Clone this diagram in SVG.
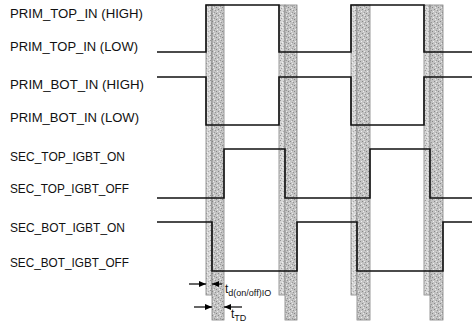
<svg xmlns="http://www.w3.org/2000/svg" width="472" height="326" viewBox="0 0 472 326">
<defs>
<pattern id="stipA" width="5" height="5" patternUnits="userSpaceOnUse">
<rect width="5" height="5" fill="#d6d6d6"/>
<rect x="0" y="0" width="1" height="1" fill="#969696"/>
<rect x="3" y="1" width="1" height="1" fill="#acacac"/>
<rect x="1" y="3" width="1" height="1" fill="#a0a0a0"/>
<rect x="4" y="4" width="1" height="1" fill="#f2f2f2"/>
<rect x="2" y="2" width="1" height="1" fill="#f0f0f0"/>
</pattern>
<pattern id="stipB" width="6" height="6" patternUnits="userSpaceOnUse">
<rect width="6" height="6" fill="#c4c4c4"/>
<rect x="0" y="1" width="1" height="1" fill="#868686"/>
<rect x="4" y="0" width="1" height="1" fill="#999999"/>
<rect x="2" y="3" width="1" height="1" fill="#888888"/>
<rect x="5" y="4" width="1" height="1" fill="#949494"/>
<rect x="1" y="5" width="1" height="1" fill="#eeeeee"/>
<rect x="3" y="1" width="1" height="1" fill="#ececec"/>
<rect x="4" y="3" width="1" height="1" fill="#e8e8e8"/>
</pattern>
<marker id="ah" viewBox="0 0 10 10" refX="10" refY="5" markerWidth="7" markerHeight="6" markerUnits="userSpaceOnUse" orient="auto" preserveAspectRatio="none">
<path d="M0,0 L10,5 L0,10 Z" fill="#000"/>
</marker>
</defs>
<style>
.lbl{font-family:"Liberation Sans",Arial,sans-serif;font-size:12px;fill:#111}
.bA{fill:url(#stipA);stroke:#808080;stroke-width:0.8}
.bB{fill:url(#stipB);stroke:#808080;stroke-width:0.8}
.wave{fill:none;stroke:#111;stroke-width:1.6}
.arr{fill:none;stroke:#000;stroke-width:1.2;marker-end:url(#ah)}
.tl{font-family:"Liberation Sans",Arial,sans-serif;fill:#111}
</style>
<rect width="472" height="326" fill="#fff"/>
<g id="bands">
<rect class="bA" x="206" y="5" width="6" height="290"/>
<rect class="bB" x="212" y="5" width="12" height="315"/>
<rect class="bA" x="279" y="5" width="6" height="290"/>
<rect class="bB" x="285" y="5" width="12" height="315"/>
<rect class="bA" x="351" y="5" width="6" height="290"/>
<rect class="bB" x="357" y="5" width="13" height="315"/>
<rect class="bA" x="424" y="5" width="6" height="290"/>
<rect class="bB" x="430" y="5" width="13" height="315"/>
</g>
<g id="labels">
<text class="lbl" x="10" y="17.5" textLength="133" lengthAdjust="spacingAndGlyphs">PRIM_TOP_IN (HIGH)</text>
<text class="lbl" x="10" y="51" textLength="128" lengthAdjust="spacingAndGlyphs">PRIM_TOP_IN (LOW)</text>
<text class="lbl" x="10" y="88.5" textLength="134" lengthAdjust="spacingAndGlyphs">PRIM_BOT_IN (HIGH)</text>
<text class="lbl" x="10" y="121.5" textLength="129" lengthAdjust="spacingAndGlyphs">PRIM_BOT_IN (LOW)</text>
<text class="lbl" x="10" y="161" textLength="115" lengthAdjust="spacingAndGlyphs">SEC_TOP_IGBT_ON</text>
<text class="lbl" x="10" y="193" textLength="119" lengthAdjust="spacingAndGlyphs">SEC_TOP_IGBT_OFF</text>
<text class="lbl" x="10" y="232" textLength="115" lengthAdjust="spacingAndGlyphs">SEC_BOT_IGBT_ON</text>
<text class="lbl" x="10" y="267" textLength="119" lengthAdjust="spacingAndGlyphs">SEC_BOT_IGBT_OFF</text>
</g>
<g id="waves">
<path id="prim-top" class="wave" d="M157,52 H206 V5 H279 V52 H351 V5 H424 V52 H472"/>
<path id="prim-bot" class="wave" d="M157,77 H206 V125 H279 V77 H351 V125 H424 V77 H472"/>
<path id="sec-top" class="wave" d="M157,198 H224 V149 H285 V198 H370 V149 H430 V198 H472"/>
<path id="sec-bot" class="wave" d="M157,222 H212 V271 H297 V222 H357 V271 H443 V222 H472"/>
</g>
<g id="connectors">
<line class="arr" x1="189" y1="284" x2="206" y2="284"/>
<line class="arr" x1="222" y1="284" x2="212" y2="284"/>
<line class="arr" x1="194" y1="307" x2="212" y2="307"/>
<line class="arr" x1="242" y1="307" x2="224" y2="307"/>
</g>
<g id="timing-labels">
<text class="tl" x="225" y="293" font-size="12">t<tspan font-size="9" dy="3">d(on/off)IO</tspan></text>
<text class="tl" x="231" y="318" font-size="12">t<tspan font-size="9" dy="3">TD</tspan></text>
</g>
</svg>
